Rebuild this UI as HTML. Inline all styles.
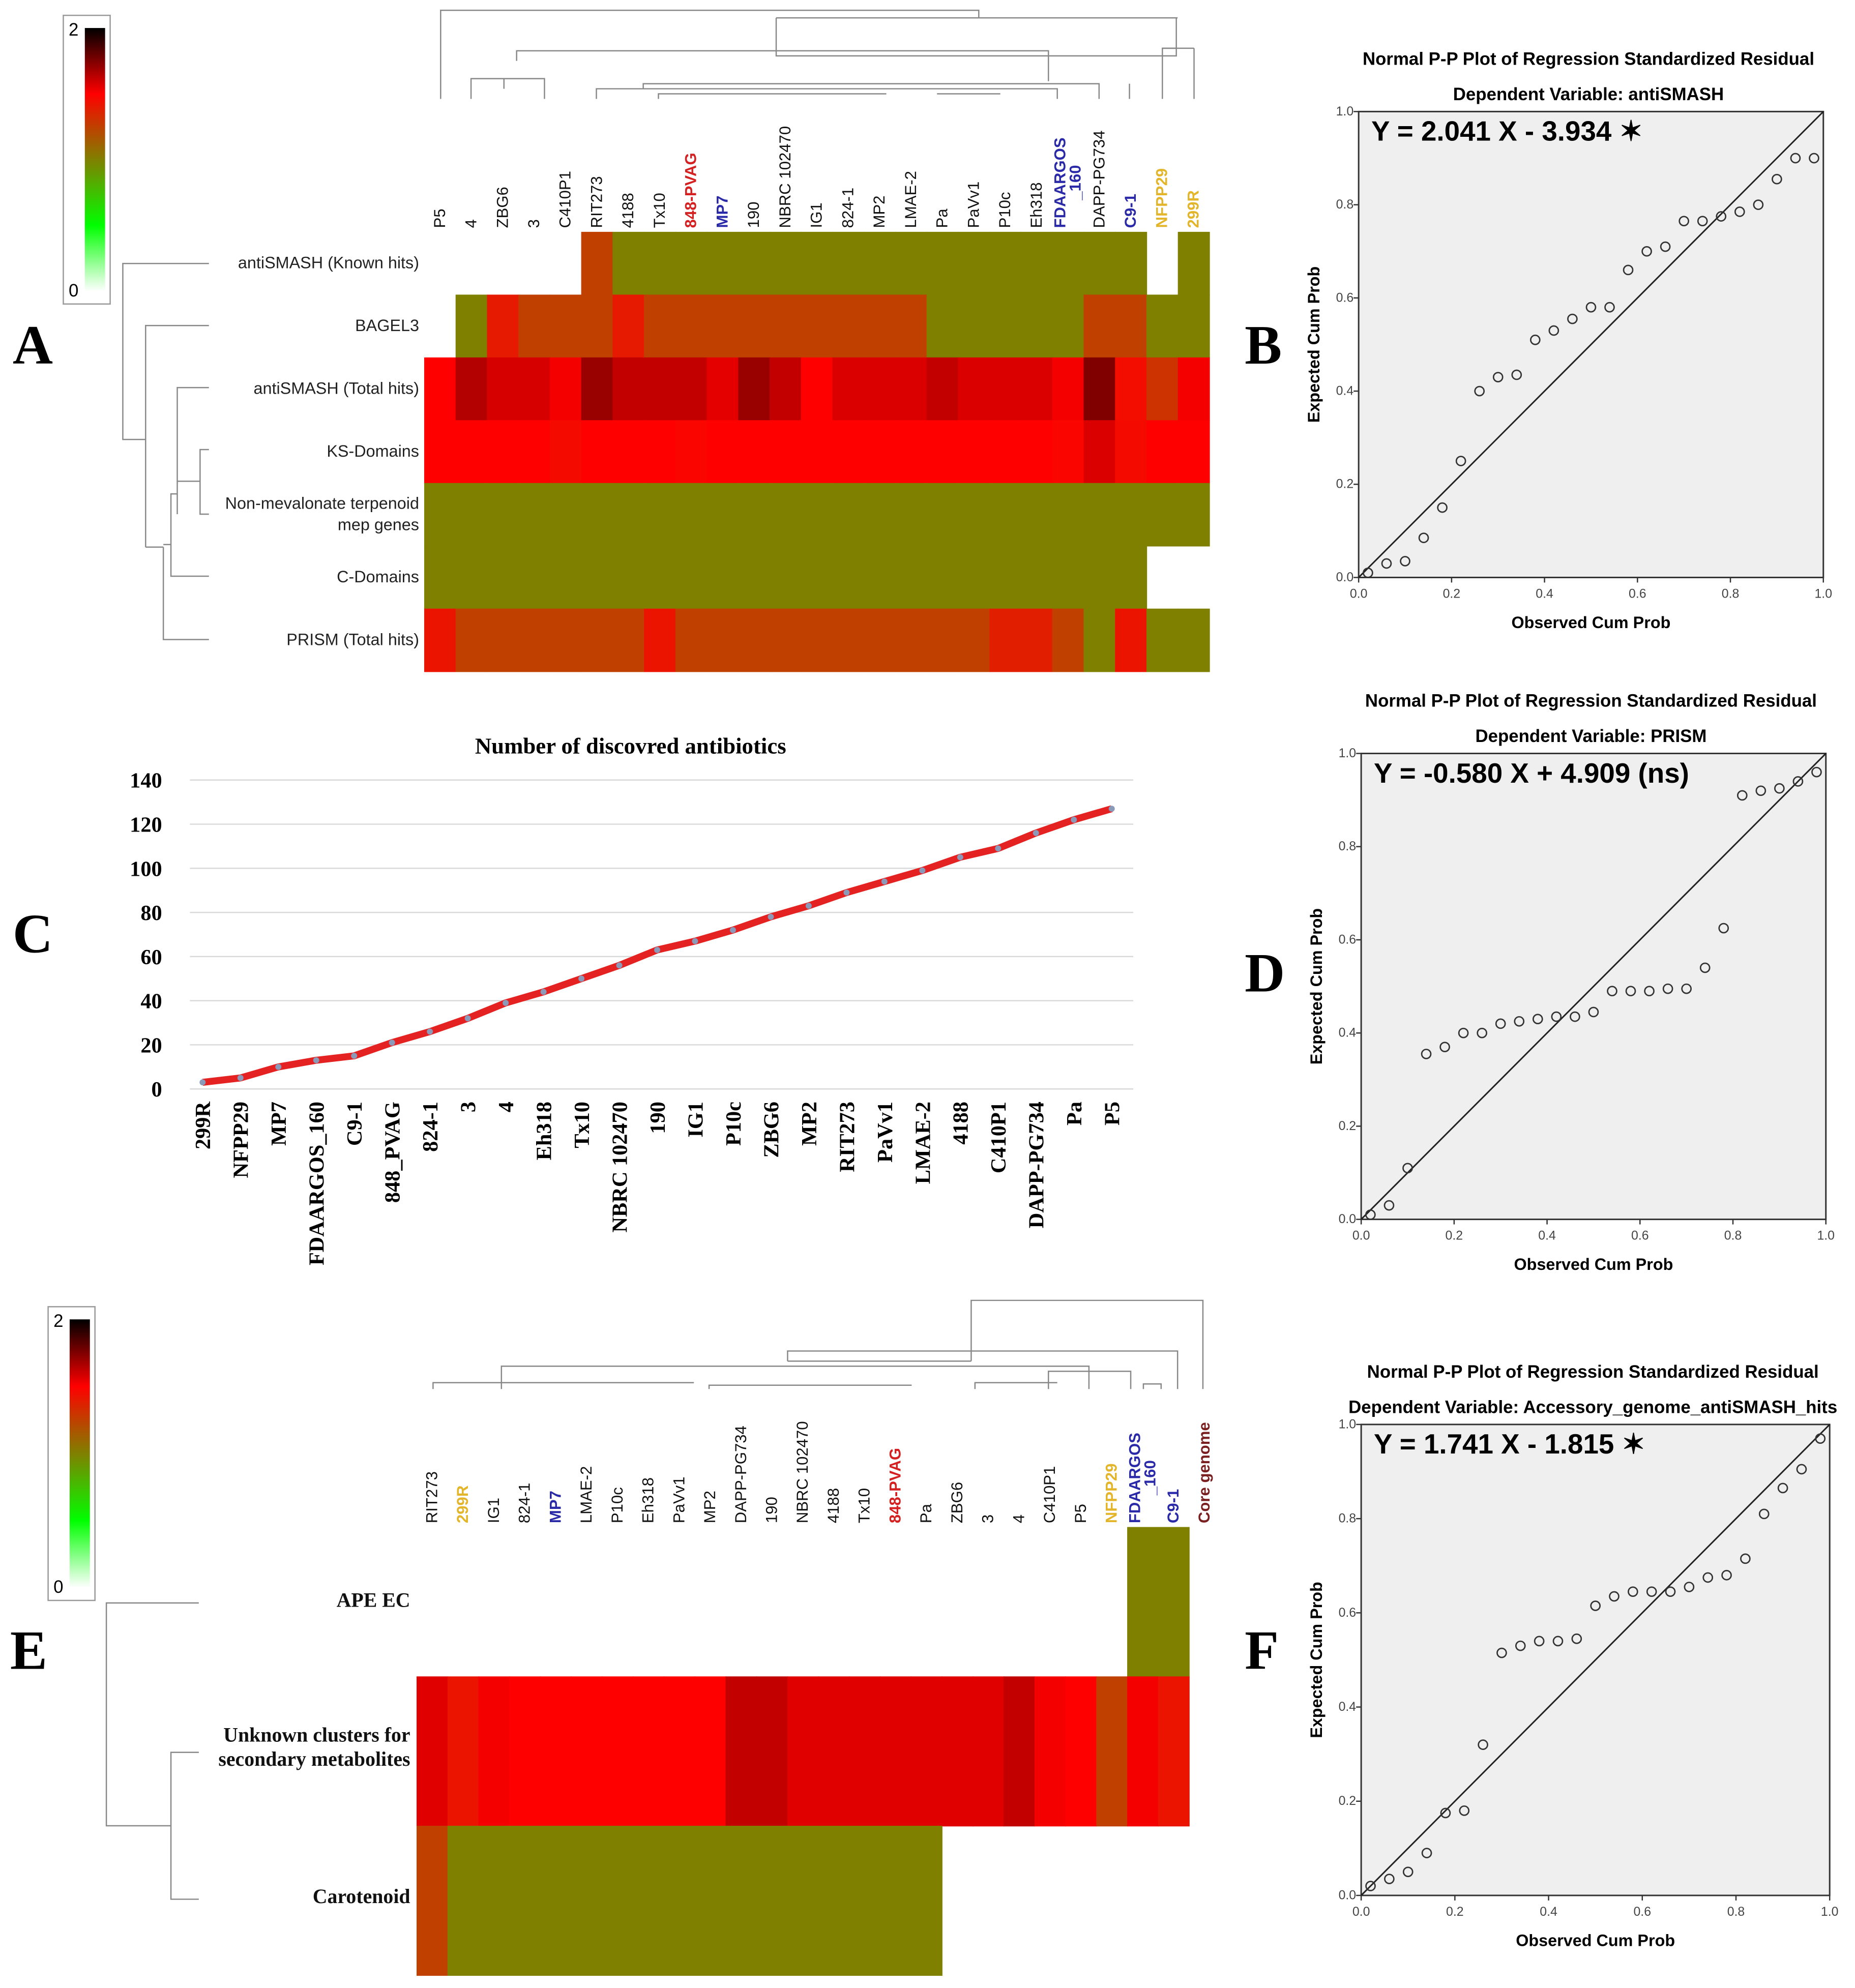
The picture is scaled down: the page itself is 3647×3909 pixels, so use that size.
<!DOCTYPE html>
<html><head><meta charset="utf-8"><style>html,body{margin:0;padding:0;background:#fff}svg{display:block}</style></head>
<body>
<svg id="fig" xmlns="http://www.w3.org/2000/svg" width="3647" height="3909" viewBox="0 0 1465 1570" font-family="Liberation Sans, sans-serif">
<defs>
<linearGradient id="cbar" x1="0" y1="1" x2="0" y2="0">
<stop offset="0" stop-color="#ffffff"/><stop offset="0.25" stop-color="#00ff00"/><stop offset="0.5" stop-color="#808000"/><stop offset="0.75" stop-color="#ff0000"/><stop offset="1" stop-color="#000000"/>
</linearGradient>
</defs>
<g id="panelA"></g>
<g id="panelE"></g>
<g id="panelC"></g>
<g id="panelB"></g>
<g id="panelD"></g>
<g id="panelF"></g>
</svg>
<script>
var NS="http://www.w3.org/2000/svg";
function mk(p,t,a,txt){var e=document.createElementNS(NS,t);for(var k in a)e.setAttribute(k,a[k]);if(txt!==undefined)e.textContent=txt;p.appendChild(e);return e;}

// ---------- DATA ----------
var colsA=["P5","4","ZBG6","3","C410P1","RIT273","4188","Tx10","848-PVAG","MP7","190","NBRC 102470","IG1","824-1","MP2","LMAE-2","Pa","PaVv1","P10c","Eh318","FDAARGOS_160","DAPP-PG734","C9-1","NFPP29","299R"];
var rowsA=["antiSMASH (Known hits)","BAGEL3","antiSMASH (Total hits)","KS-Domains","Non-mevalonate terpenoid|mep genes","C-Domains","PRISM (Total hits)"];
var rowA0=[null,null,null,null,null,1.25,1,1,1,1,1,1,1,1,1,1,1,1,1,1,1,1,1,null,1];
var rowA1=[null,1,1.4,1.25,1.25,1.25,1.4,1.25,1.25,1.25,1.25,1.25,1.25,1.25,1.25,1.25,1,1,1,1,1,1.25,1.25,1,1];
var rowA2=[1.5,1.65,1.58,1.58,1.52,1.7,1.62,1.62,1.62,1.55,1.7,1.62,1.5,1.57,1.57,1.57,1.62,1.57,1.57,1.57,1.52,1.75,1.45,1.3,1.52];
var rowA3=[1.5,1.5,1.5,1.5,1.46,1.5,1.5,1.5,1.48,1.5,1.5,1.5,1.5,1.5,1.5,1.5,1.5,1.5,1.5,1.5,1.48,1.57,1.46,1.5,1.5];
var rowA4=[1,1,1,1,1,1,1,1,1,1,1,1,1,1,1,1,1,1,1,1,1,1,1,1,1];
var rowA5=[1,1,1,1,1,1,1,1,1,1,1,1,1,1,1,1,1,1,1,1,1,1,1,null,null];
var rowA6=[1.42,1.25,1.25,1.25,1.25,1.25,1.25,1.42,1.25,1.25,1.25,1.25,1.25,1.25,1.25,1.25,1.25,1.25,1.38,1.38,1.25,1,1.42,1,1];

var colsE=["RIT273","299R","IG1","824-1","MP7","LMAE-2","P10c","Eh318","PaVv1","MP2","DAPP-PG734","190","NBRC 102470","4188","Tx10","848-PVAG","Pa","ZBG6","3","4","C410P1","P5","NFPP29","FDAARGOS_160","C9-1","Core genome"];
var rowsE=["APE EC","Unknown clusters for|secondary metabolites","Carotenoid"];
var rowE0=[null,null,null,null,null,null,null,null,null,null,null,null,null,null,null,null,null,null,null,null,null,null,null,1,1];
var rowE1=[1.56,1.42,1.52,1.5,1.5,1.5,1.5,1.5,1.5,1.5,1.62,1.62,1.56,1.56,1.56,1.56,1.56,1.56,1.56,1.62,1.52,1.5,1.25,1.52,1.42];
var rowE2=[1.25,1,1,1,1,1,1,1,1,1,1,1,1,1,1,1,1,null,null,null,null,null,null,null,null];

var catsC=["299R","NFPP29","MP7","FDAARGOS_160","C9-1","848_PVAG","824-1","3","4","Eh318","Tx10","NBRC 102470","190","IG1","P10c","ZBG6","MP2","RIT273","PaVv1","LMAE-2","4188","C410P1","DAPP-PG734","Pa","P5"];
var valsC=[3,5,10,13,15,21,26,32,39,44,50,56,63,67,72,78,83,89,94,99,105,109,116,122,127];
var ticksC=[0,20,40,60,80,100,120,140];

var obsPP=[0.02,0.06,0.10,0.14,0.18,0.22,0.26,0.30,0.34,0.38,0.42,0.46,0.50,0.54,0.58,0.62,0.66,0.70,0.74,0.78,0.82,0.86,0.90,0.94,0.98];
var expB=[0.01,0.03,0.035,0.085,0.15,0.25,0.40,0.43,0.435,0.51,0.53,0.555,0.58,0.58,0.66,0.70,0.71,0.765,0.765,0.775,0.785,0.80,0.855,0.90,0.90];
var expD=[0.01,0.03,0.11,0.355,0.37,0.40,0.40,0.42,0.425,0.43,0.435,0.435,0.445,0.49,0.49,0.49,0.495,0.495,0.54,0.625,0.91,0.92,0.925,0.94,0.96];
var expF=[0.02,0.035,0.05,0.09,0.175,0.18,0.32,0.515,0.53,0.54,0.54,0.545,0.615,0.635,0.645,0.645,0.645,0.655,0.675,0.68,0.715,0.81,0.865,0.905,0.97];
var ppTicks=[0,0.2,0.4,0.6,0.8,1.0];

// ---------- helpers ----------
function colorFor(v){
  var stops=[[0,[255,255,255]],[0.5,[0,255,0]],[1,[128,128,0]],[1.5,[255,0,0]],[2,[0,0,0]]];
  for(var i=0;i<stops.length-1;i++){var a=stops[i],b=stops[i+1];if(v<=b[0]){var t=(v-a[0])/(b[0]-a[0]);var c=[0,1,2].map(function(j){return Math.round(a[1][j]+(b[1][j]-a[1][j])*t);});return "rgb("+c.join(",")+")";}}
  return "#000";
}
function labelColor(n){
  if(n==="848-PVAG")return "#d42020";
  if(n==="MP7"||n==="FDAARGOS_160"||n==="C9-1")return "#2a2aa8";
  if(n==="NFPP29"||n==="299R")return "#e3b52a";
  if(n==="Core genome")return "#7a1f1f";
  return "#111";
}
function colorbar(g,x,y,h){
  var b=mk(g,"rect",{x:x,y:y,width:37,height:h,fill:"#fff",stroke:"#999","stroke-width":1});
  
  
  var r=mk(g,"rect",{x:x+17,y:y+10,width:16,height:h-20,fill:"url(#cbar)"});
  
  
  mk(g,"text",{x:x+12,y:y+16,"font-size":14,"text-anchor":"end"},"2");
  mk(g,"text",{x:x+12,y:y+h-6,"font-size":14,"text-anchor":"end"},"0");
}
function heat(g,rowsData,x0,y0,cw,rh){
  rowsData.forEach(function(row,ri){row.forEach(function(v,ci){if(v===null)return;
    var r=mk(g,"rect",{x:x0+ci*cw,y:y0+ri*rh,width:cw+0.5,height:rh+0.5,fill:colorFor(v)});
    
    
  });});
}
function colLabels(g,cols,x0,cw,yb,fs){
  cols.forEach(function(c,i){var cx=x0+i*cw+cw/2+4;var col=labelColor(c);var bold=col!=="#111";
    if(c==="FDAARGOS_160"){
      var t1=mk(g,"text",{transform:"translate("+(cx-6)+","+yb+") rotate(-90)","font-size":fs,fill:col,"font-weight":"bold"},"FDAARGOS");
      
      
      var t2=mk(g,"text",{transform:"translate("+(cx+6)+","+(yb-22)+") rotate(-90)","font-size":fs,fill:col,"font-weight":"bold"},"_160");
      
      
    } else {
      var t=mk(g,"text",{transform:"translate("+cx+","+yb+") rotate(-90)","font-size":fs,fill:col,"font-weight":bold?"bold":"normal"},c);
      
      
    }
  });
}
function L(g,pts){mk(g,"polyline",{points:pts,fill:"none",stroke:"#888","stroke-width":1});}

// ---------- Panel A ----------
try{(function(){
  var g=document.getElementById("panelA");
  colorbar(g,50,12,228);
  var x0=335,cw=24.8,y0=183,rh=49.6;
  heat(g,[rowA0,rowA1,rowA2,rowA3,rowA4,rowA5,rowA6],x0,y0,cw,rh);
  colLabels(g,colsA,x0,cw,180,12.5);
  rowsA.forEach(function(r,i){var parts=r.split("|");parts.forEach(function(p,k){var t=mk(g,"text",{x:331,y:y0+i*rh+rh/2+4+(k-(parts.length-1)/2)*17,"font-size":13,"text-anchor":"end",fill:"#222"},p);
    
    });});
  var A=mk(g,"text",{x:10,y:287,"font-size":44,"font-weight":"bold","font-family":"Liberation Serif, serif"},"A");
  
  
  L(g,"165,208 97,208 97,347 115,347");L(g,"165,257 115,257 115,432");L(g,"115,432 129,432");
  L(g,"165,306 140,306 140,406");L(g,"165,355 158,355 158,406 165,406");L(g,"158,380 140,380");
  L(g,"129,432 129,505 165,505");L(g,"140,390 135,390 135,455 165,455");L(g,"135,430 129,430");
  L(g,"348,78 348,8 773,8 773,14");L(g,"613,14 613,44 929,44 929,14");L(g,"613,14 930,14");
  L(g,"929,38 918,38 918,78");L(g,"943,38 943,78");L(g,"918,38 943,38");
  L(g,"408,48 408,40 828,40 828,64");L(g,"372,78 372,62 430,62 430,78");L(g,"398,62 398,70");
  L(g,"471,78 471,70 835,70 835,78");L(g,"508,70 508,66 868,66 868,78");L(g,"892,78 892,66");
  L(g,"520,78 520,74 700,74");L(g,"740,74 790,74");
})();}catch(err){console.log(err);}

// ---------- Panel E ----------
try{(function(){
  var g=document.getElementById("panelE");
  colorbar(g,38,1032,232);
  var x0=329,cw=24.4,y0=1206,rh=118;
  heat(g,[rowE0,rowE1,rowE2],x0,y0,cw,rh);
  colLabels(g,colsE,x0,cw,1203,12.5);
  rowsE.forEach(function(r,i){var parts=r.split("|");parts.forEach(function(p,k){var t=mk(g,"text",{x:324,y:y0+i*rh+rh/2+(i===0?4:2)+(k-(parts.length-1)/2)*19,"font-size":16,"font-weight":"bold","text-anchor":"end","font-family":"Liberation Serif, serif",fill:"#111"},p);
    
    });});
  var E=mk(g,"text",{x:8,y:1318,"font-size":44,"font-weight":"bold","font-family":"Liberation Serif, serif"},"E");
  
  
  L(g,"157,1266 84,1266 84,1442 135,1442");L(g,"157,1384 135,1384 135,1500 157,1500");
  L(g,"767,1075 767,1027 950,1027 950,1097");L(g,"622,1075 622,1067 930,1067 930,1097");L(g,"767,1075 622,1075");
  L(g,"396,1097 396,1079 860,1079 860,1097");L(g,"342,1097 342,1092 548,1092");L(g,"828,1097 828,1083 893,1083 893,1097");
  L(g,"903,1097 903,1093 917,1093 917,1097");L(g,"770,1097 770,1092 835,1092");L(g,"560,1097 560,1094 720,1094");
})();}catch(err){console.log(err);}

// ---------- Panel C ----------
try{(function(){
  var g=document.getElementById("panelC");
  var px0=150,px1=895,py0=860,py1=616;
  function X(i){return 160+i*(878-160)/(catsC.length-1);}
  function Y(v){return py0+v*(py1-py0)/140;}
  ticksC.forEach(function(t){mk(g,"line",{x1:px0,x2:px1,y1:Y(t),y2:Y(t),stroke:"#d9d9d9","stroke-width":1});
    var tx=mk(g,"text",{x:128,y:Y(t)+6,"font-size":17,"font-weight":"bold","text-anchor":"end","font-family":"Liberation Serif, serif"},String(t));
    
    });
  var tt=mk(g,"text",{x:498,y:595,"font-size":18,"font-weight":"bold","text-anchor":"middle","font-family":"Liberation Serif, serif"},"Number of discovred antibiotics");
  
  
  var ln=mk(g,"polyline",{points:valsC.map(function(v,i){return X(i)+","+Y(v);}).join(" "),fill:"none",stroke:"#e52222","stroke-width":5.5,"stroke-linejoin":"round"});
  
  
  valsC.forEach(function(v,i){var c=mk(g,"circle",{cx:X(i),cy:Y(v),r:2.4,fill:"#8a9ab8"});
    
    });
  catsC.forEach(function(c,i){var t=mk(g,"text",{transform:"translate("+(X(i)+6)+",870) rotate(-90)","font-size":17,"font-weight":"bold","text-anchor":"end","font-family":"Liberation Serif, serif"},c);
    
    });
  var C=mk(g,"text",{x:10,y:752,"font-size":44,"font-weight":"bold","font-family":"Liberation Serif, serif"},"C");
  
  
})();}catch(err){console.log(err);}

// ---------- PP plots ----------
function pp(id,letter,ly,x0,x1,y0,y1,dep,eq,exps,star){
  var g=document.getElementById(id);
  function PX(v){return x0+v*(x1-x0);}
  function PY(v){return y1-v*(y1-y0);}
  var t1=mk(g,"text",{x:(x0+x1)/2-2,y:y0-37,"font-size":14,"font-weight":"bold","text-anchor":"middle"},"Normal P-P Plot of Regression Standardized Residual");
  
  
  var t2=mk(g,"text",{x:(x0+x1)/2-2,y:y0-9,"font-size":14,"font-weight":"bold","text-anchor":"middle"},dep);
  
  
  var bg=mk(g,"rect",{x:x0,y:y0,width:x1-x0,height:y1-y0,fill:"#efefef",stroke:"#333","stroke-width":1.2});
  
  
  mk(g,"line",{x1:PX(0),y1:PY(0),x2:PX(1),y2:PY(1),stroke:"#222","stroke-width":1.2});
  for(var ti=0;ti<ppTicks.length;ti++){var t=ppTicks[ti];
    mk(g,"line",{x1:PX(t),x2:PX(t),y1:y1,y2:y1+4,stroke:"#333"});
    mk(g,"line",{x1:x0-4,x2:x0,y1:PY(t),y2:PY(t),stroke:"#333"});
    var a=mk(g,"text",{x:PX(t),y:y1+16,"font-size":10,"text-anchor":"middle",fill:"#444"},t.toFixed(1));
    
    
    var b=mk(g,"text",{x:x0-4,y:PY(t)+3,"font-size":10,"text-anchor":"end",fill:"#444"},t.toFixed(1));
    
    
  }
  var xl=mk(g,"text",{x:(x0+x1)/2,y:y1+40,"font-size":13,"font-weight":"bold","text-anchor":"middle"},"Observed Cum Prob");
  
  
  var yl=mk(g,"text",{transform:"translate("+(x0-31)+","+((y0+y1)/2)+") rotate(-90)","font-size":13,"font-weight":"bold","text-anchor":"middle"},"Expected Cum Prob");
  
  
  for(var i=0;i<exps.length;i++){
    var c=mk(g,"circle",{cx:PX(obsPP[i]),cy:PY(exps[i]),r:3.6,fill:"none",stroke:"#333","stroke-width":1.1});
    
    
  }
  var eqt=mk(g,"text",{x:x0+10,y:y0+23,"font-size":22,"font-weight":"bold"},eq+(star?" \u2736":""));
  
  
  var lab=mk(g,"text",{x:983,y:ly,"font-size":44,"font-weight":"bold","font-family":"Liberation Serif, serif"},letter);
  
  
}
try{pp("panelB","B",287,1073,1440,88,456,"Dependent Variable: antiSMASH","Y = 2.041 X - 3.934",expB,true);}catch(err){console.log(err);}
try{pp("panelD","D",783,1075,1442,595,963,"Dependent Variable: PRISM","Y = -0.580 X + 4.909 (ns)",expD,false);}catch(err){console.log(err);}
try{pp("panelF","F",1318,1075,1445,1125,1497,"Dependent Variable: Accessory_genome_antiSMASH_hits","Y = 1.741 X - 1.815",expF,true);}catch(err){console.log(err);}
</script>
</body></html>
